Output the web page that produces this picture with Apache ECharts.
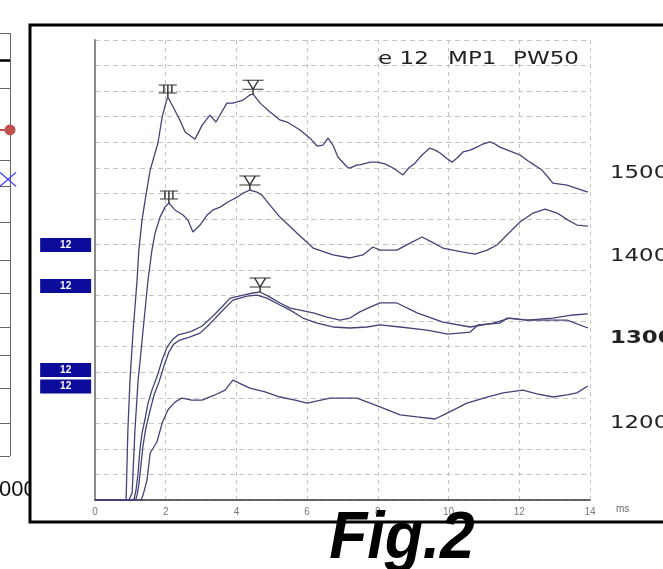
<!DOCTYPE html>
<html>
<head>
<meta charset="utf-8">
<title>Fig.2</title>
<script src="https://cdn.jsdelivr.net/npm/echarts@6/dist/echarts.min.js"></script>
<style>
  html, body { margin: 0; padding: 0; background: #fff; }
  #chart { width: 663px; height: 569px; }
</style>
</head>
<body>
<div id="chart"></div>
<script>
// waveforms: [ms, amplitude in grid divisions]
var trace1500 = [[0,0],[0.88,0],[0.93,2.74],[0.99,4.69],[1.08,6.65],[1.19,8.61],[1.24,9.78],[1.33,10.95],[1.44,11.93],[1.56,12.91],[1.78,13.97],[1.9,14.98],[2.01,15.57],[2.06,15.77],[2.21,15.38],[2.4,14.87],[2.55,14.4],[2.83,14.12],[3.03,14.67],[3.25,15.06],[3.42,14.79],[3.73,15.53],[3.9,15.53],[4.19,15.65],[4.38,15.85],[4.47,15.88],[4.67,15.53],[4.95,15.18],[5.23,14.87],[5.43,14.79],[5.8,14.48],[6.08,14.16],[6.28,13.85],[6.45,13.89],[6.59,14.16],[6.73,13.89],[6.87,13.42],[7.13,13.03],[7.21,12.99],[7.41,13.11],[7.49,13.11],[7.78,13.22],[7.98,13.22],[8.2,13.15],[8.43,12.99],[8.71,12.72],[8.88,13.0],[9.05,13.18],[9.25,13.5],[9.47,13.77],[9.62,13.69],[9.76,13.58],[9.93,13.38],[10.1,13.22],[10.24,13.38],[10.41,13.62],[10.61,13.69],[10.8,13.81],[10.97,13.93],[11.17,14.01],[11.31,13.93],[11.45,13.81],[11.74,13.65],[12.02,13.5],[12.3,13.22],[12.64,12.91],[12.81,12.64],[12.95,12.4],[13.15,12.36],[13.35,12.32],[13.58,12.21],[13.77,12.13],[13.94,12.05]]
var trace1400 = [[0,0],[0.96,0],[1.05,0.27],[1.13,2.74],[1.22,4.69],[1.27,5.36],[1.36,6.65],[1.5,8.61],[1.61,9.78],[1.7,10.45],[1.84,11.07],[1.98,11.46],[2.09,11.62],[2.26,11.35],[2.49,11.15],[2.63,10.95],[2.77,10.49],[2.97,10.76],[3.17,11.15],[3.34,11.35],[3.54,11.46],[3.76,11.66],[4.02,11.85],[4.19,12.01],[4.38,12.13],[4.58,12.05],[4.72,11.93],[4.95,11.54],[5.23,11.07],[5.71,10.45],[6.17,9.86],[6.73,9.59],[7.21,9.47],[7.58,9.59],[7.86,9.9],[8.06,9.78],[8.54,9.78],[8.91,10.05],[9.25,10.29],[9.53,10.09],[9.84,9.86],[10.41,9.7],[10.75,9.62],[11.09,9.78],[11.37,9.98],[11.65,10.37],[12.02,10.88],[12.39,11.23],[12.73,11.38],[13.07,11.23],[13.38,10.95],[13.63,10.76],[13.94,10.72]]
var trace1300a = [[0,0],[1.1,0],[1.16,0.39],[1.22,1.06],[1.27,1.96],[1.33,2.62],[1.41,3.13],[1.5,3.79],[1.61,4.3],[1.75,4.81],[1.9,5.48],[2.04,5.99],[2.18,6.26],[2.35,6.46],[2.55,6.53],[2.74,6.61],[3.03,6.81],[3.31,7.16],[3.59,7.55],[3.82,7.9],[4.19,8.02],[4.47,8.1],[4.67,8.14],[4.95,7.94],[5.23,7.71],[5.52,7.51],[5.8,7.43],[6.17,7.32],[6.56,7.16],[6.93,7.04],[7.21,7.12],[7.49,7.36],[7.78,7.55],[8.06,7.71],[8.54,7.71],[9.11,7.32],[9.84,6.96],[10.61,6.77],[11.26,6.92],[11.74,7.12],[12.22,7.04],[12.78,7.04],[13.35,7.04],[13.94,6.73]]
var trace1300b = [[0,0],[1.15,0],[1.19,0.2],[1.24,0.59],[1.3,1.37],[1.36,2.15],[1.44,2.82],[1.56,3.52],[1.67,4.11],[1.81,4.62],[1.95,5.24],[2.09,5.79],[2.23,6.1],[2.4,6.26],[2.69,6.38],[2.97,6.53],[3.25,6.89],[3.54,7.32],[3.9,7.82],[4.3,7.98],[4.58,8.02],[4.86,7.9],[5.23,7.63],[5.52,7.43],[5.88,7.12],[6.28,6.92],[6.73,6.77],[7.21,6.73],[7.69,6.77],[8.06,6.85],[8.63,6.77],[9.39,6.65],[9.98,6.49],[10.61,6.57],[10.83,6.85],[11.45,6.92],[11.65,7.12],[12.22,7.04],[12.95,7.12],[13.52,7.24],[13.94,7.28]]
var trace1200 = [[0,0],[1.3,0],[1.36,0.2],[1.47,0.78],[1.56,1.84],[1.75,2.27],[1.9,3.01],[2.06,3.52],[2.26,3.83],[2.46,3.99],[2.74,3.91],[3.03,3.91],[3.39,4.11],[3.68,4.3],[3.9,4.69],[4.38,4.38],[4.81,4.23],[5.23,4.03],[5.66,3.91],[6.0,3.79],[6.65,3.99],[7.41,3.99],[8.06,3.64],[8.63,3.33],[9.11,3.25],[9.62,3.17],[9.96,3.4],[10.52,3.79],[11.09,4.03],[11.54,4.19],[12.1,4.3],[12.5,4.15],[12.95,4.03],[13.35,4.11],[13.63,4.19],[13.94,4.46]]

// wave peaks
var peaksIII = [[2.06, 15.77], [2.09, 11.62]]
var peaksV = [[4.47, 15.88], [4.38, 12.13], [4.67, 8.14]]

// channel boxes left of the axis
var channelBoxes = [[-0.83, 9.98], [-0.83, 8.37], [-0.83, 5.09], [-0.83, 4.44]]
var channelName = '12'

var levels = ['1500', '1400', '1300', '1200']
var titleParts = ['e 12', 'MP1', 'PW50']

// cropped neighbouring table at the far left
var sideRows = [0, 1.69, 3.9, 4.7, 5.81, 6.98, 7.99, 9.04, 9.9, 10.91, 11.99, 13]
var sideThickRow = 0.83
var sideRed = [[0, 2.98], [1, 2.98]]
var sideBlue = [[0.8, 4.5]]

var traceColor = '#43437a'
var markV = 'path://M0 0H21M5 0L10.5 9L16 0M0 9H21M10.5 9V14'
var markIII = 'path://M0 0H18M0 8H18M5 0V8M9 0V8M13 0V8M9 8V12'

function trace(name, data) {
  return {
    name: name,
    type: 'line',
    data: data,
    showSymbol: false,
    lineStyle: { color: traceColor, width: 1.3 },
    z: 3
  }
}

var chart = echarts.init(document.getElementById('chart'))
var textFont = 'DejaVu Sans'

var graphics = [
  { type: 'text', x: -1, y: 490, z: 0, style: { text: '000', font: '22px "Liberation Sans"', fill: '#111', textVerticalAlign: 'middle' } },
  { type: 'rect', z: 1, shape: { x: 31, y: 468, width: 8, height: 40 }, style: { fill: '#fff' } },
  { type: 'rect', z: 2, shape: { x: 30, y: 25, width: 700, height: 497 }, style: { fill: 'none', stroke: '#000', lineWidth: 3 } }
]

var titleX = [378, 448, 513]
titleParts.forEach(function(t, i) {
  graphics.push({ type: 'text', x: titleX[i], y: 59, scaleX: 1.28, z: 5,
    style: { text: t, font: '18px "' + textFont + '"', fill: '#222', textVerticalAlign: 'middle' } })
})

var levelY = [173, 256, 338, 423]
levels.forEach(function(t, i) {
  graphics.push({ type: 'text', x: 610, y: levelY[i], scaleX: 1.27, z: 5,
    style: { text: t, font: (t === '1300' ? 'bold ' : '') + '18px "' + textFont + '"', fill: '#222', textVerticalAlign: 'middle' } })
})

graphics.push({ type: 'text', x: 402, y: 540, scaleX: 0.93, z: 5,
  style: { text: 'Fig.2', font: 'italic bold 67px "Liberation Sans"', fill: '#000', textAlign: 'center', textVerticalAlign: 'middle' } })

var markLines = sideRows.map(function(r) { return { yAxis: r } })
markLines.push({ yAxis: sideThickRow, lineStyle: { color: '#000', width: 2.5 } })
markLines.push({ xAxis: 1 })

chart.setOption({
  animation: false,
  backgroundColor: '#fff',
  grid: [
    { left: 95, top: 40, width: 495, height: 460 },
    { left: 0, top: 33, width: 10, height: 423 }
  ],
  xAxis: [
    {
      type: 'value',
      gridIndex: 0,
      min: 0,
      max: 14,
      interval: 2,
      name: 'ms',
      nameLocation: 'end',
      nameGap: 26,
      nameTextStyle: { color: '#666', fontSize: 10, fontFamily: 'Liberation Sans', verticalAlign: 'top', padding: [4, 0, 0, 0] },
      axisLine: { lineStyle: { color: '#333', width: 1.5 } },
      axisTick: { show: false },
      axisLabel: { color: '#777', fontSize: 10, margin: 7, fontFamily: 'Liberation Sans' },
      splitLine: { lineStyle: { color: '#c4c4c4', type: [4, 4] } }
    },
    { type: 'value', gridIndex: 1, min: 0, max: 1, show: false }
  ],
  yAxis: [
    {
      type: 'value',
      gridIndex: 0,
      min: 0,
      max: 18,
      interval: 1,
      axisLine: { show: true, lineStyle: { color: '#8a8a8a', width: 2 } },
      axisTick: { show: false },
      axisLabel: { show: false },
      splitLine: { lineStyle: { color: '#c4c4c4', type: [5, 4] } }
    },
    { type: 'value', gridIndex: 1, min: 0, max: 13, inverse: true, show: false }
  ],
  series: [
    trace('1500', trace1500),
    trace('1400', trace1400),
    trace('1300a', trace1300a),
    trace('1300b', trace1300b),
    trace('1200', trace1200),
    {
      name: 'III',
      type: 'scatter',
      data: peaksIII,
      symbol: markIII,
      symbolSize: [18, 12],
      symbolOffset: [0, -6],
      itemStyle: { color: 'rgba(0,0,0,0)', borderColor: '#333', borderWidth: 1.2, opacity: 1 },
      z: 4
    },
    {
      name: 'V',
      type: 'scatter',
      data: peaksV,
      symbol: markV,
      symbolSize: [21, 14],
      symbolOffset: [0, -7],
      itemStyle: { color: 'rgba(0,0,0,0)', borderColor: '#333', borderWidth: 1.2, opacity: 1 },
      z: 4
    },
    {
      name: 'channel',
      type: 'scatter',
      data: channelBoxes,
      clip: false,
      symbol: 'rect',
      symbolSize: [51, 14],
      itemStyle: { color: '#0c0c9a', opacity: 1 },
      label: { show: true, position: 'inside', formatter: channelName, color: '#fff', fontSize: 10, fontWeight: 'bold', fontFamily: 'Liberation Sans' },
      z: 4
    },
    {
      name: 'side',
      type: 'line',
      xAxisIndex: 1,
      yAxisIndex: 1,
      data: sideRed,
      showSymbol: false,
      clip: false,
      lineStyle: { color: '#c0504d', width: 2 },
      markLine: {
        silent: true,
        symbol: 'none',
        label: { show: false },
        lineStyle: { color: '#666', type: 'solid', width: 1 },
        data: markLines
      }
    },
    {
      name: 'sideRedDot',
      type: 'scatter',
      xAxisIndex: 1,
      yAxisIndex: 1,
      data: [sideRed[1]],
      clip: false,
      symbolSize: 11,
      itemStyle: { color: '#c0504d', opacity: 1 },
      z: 5
    },
    {
      name: 'sideBlue',
      type: 'scatter',
      xAxisIndex: 1,
      yAxisIndex: 1,
      data: sideBlue,
      clip: false,
      symbol: 'path://M0 0L16 14M16 0L0 14',
      symbolSize: [16, 14],
      itemStyle: { color: 'rgba(0,0,0,0)', borderColor: '#3b3bff', borderWidth: 1.3, opacity: 1 },
      z: 5
    }
  ],
  graphic: graphics
})
</script>
</body>
</html>
